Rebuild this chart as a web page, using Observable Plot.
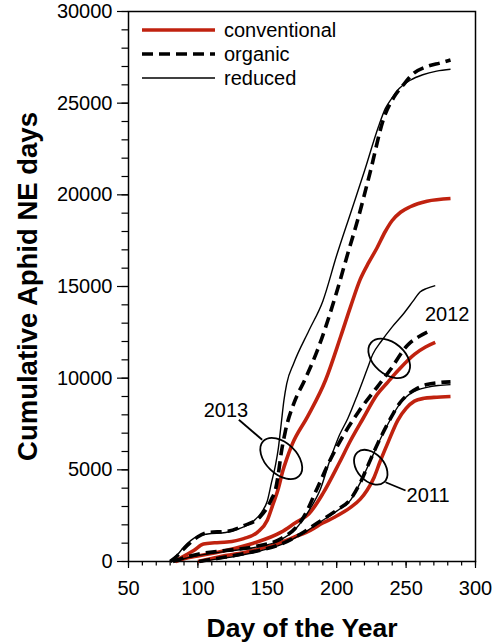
<!DOCTYPE html>
<html>
<head>
<meta charset="utf-8">
<script src="https://cdn.jsdelivr.net/npm/d3@7"></script>
<script src="https://cdn.jsdelivr.net/npm/@observablehq/plot@0.6"></script>
<style>
  body { margin: 0; background: #fff; }
  #wrap { position: relative; width: 498px; height: 644px; font-family: "Liberation Sans", Arial, Helvetica, sans-serif; }
  #legend { position: absolute; left: 142px; top: 18px; font-size: 20px; color: #000; }
  #legend .row { display: flex; align-items: center; height: 24px; }
  #legend svg { display: block; margin-right: 9px; }
</style>
</head>
<body>
<div id="wrap"><div id="legend"></div></div>
<script>
// Cumulative aphid NE days by day of year, [day, value] pairs per year and treatment
const conventional2013 = [[83,0],[90,300],[97,600],[104,950],[112,1020],[121,1060],[133,1250],[143,1600],[150,2250],[154,3100],[158,4000],[161,4900],[164,5600],[168,6400],[179,7900],[192,9900],[203,12300],[210,13900],[217,15400],[223,16300],[229,17100],[235,18000],[240,18600],[246,19050],[253,19350],[265,19650],[282,19800]];
const organic2013 = [[80,0],[85,300],[90,700],[95,1050],[100,1350],[107,1580],[121,1650],[133,1950],[145,2450],[150,2950],[153,3400],[156,3950],[158,4800],[160,5900],[163,7100],[169,8600],[177,9900],[186,11500],[200,14700],[208,16800],[215,18600],[224,21200],[234,24200],[241,25300],[248,26000],[255,26600],[265,27000],[275,27200],[282,27350]];
const reduced2013 = [[80,0],[85,350],[90,800],[95,1150],[100,1380],[107,1500],[120,1580],[130,1800],[140,2200],[146,2700],[150,3300],[153,4300],[156,5300],[158,6200],[160,7500],[162,8800],[164,9700],[169,10800],[180,12600],[190,14200],[200,16700],[210,19000],[220,21300],[230,23700],[235,24700],[240,25300],[245,25800],[253,26250],[262,26550],[272,26750],[282,26850]];

const conventional2012 = [[84,0],[90,150],[100,300],[120,600],[140,1000],[160,1600],[170,2100],[180,2600],[190,3700],[202,5400],[210,6600],[219,7800],[229,9100],[237,9800],[244,10400],[256,11300],[264,11700],[271,11950]];
const organic2012 = [[82,0],[90,200],[100,400],[120,600],[140,800],[160,1250],[170,1800],[176,2400],[186,4000],[195,5500],[205,6900],[216,8200],[229,9500],[239,10500],[251,11800],[260,12300],[269,12650]];
const reduced2012 = [[82,0],[90,150],[100,320],[120,550],[140,750],[160,1200],[170,1750],[175,2200],[181,2900],[188,3900],[195,5500],[202,6900],[208,7800],[215,9100],[222,10500],[226,11300],[232,12000],[240,12800],[248,13500],[255,14200],[260,14700],[265,14900],[271,15050]];

const conventional2011 = [[100,0],[110,160],[120,320],[135,520],[157,960],[170,1350],[181,1700],[190,2100],[198,2400],[210,2950],[217,3400],[222,3900],[227,4600],[231,5400],[237,6500],[244,7700],[250,8350],[256,8750],[263,8900],[270,8950],[282,9000]];
const organic2011 = [[101,0],[110,120],[120,240],[130,380],[145,620],[160,950],[174,1500],[188,2200],[200,2800],[210,3400],[217,4300],[224,5500],[230,6500],[238,7700],[246,8700],[252,9150],[258,9450],[265,9650],[273,9750],[282,9800]];
const reduced2011 = [[103,0],[110,90],[120,200],[130,330],[145,580],[160,920],[174,1450],[188,2150],[200,2750],[210,3350],[217,4300],[224,5450],[230,6450],[238,7650],[246,8650],[252,9100],[258,9350],[265,9500],[273,9600],[282,9650]];

const treatments = ["conventional", "organic", "reduced"];
const years = ["2011", "2012", "2013"];
const xTicks = [50, 100, 150, 200, 250, 300];
const yTicks = [0, 5000, 10000, 15000, 20000, 25000, 30000];

// Year annotations: ring around each year's bundle, its tag, and the leader line between them
const yearTags = [
  {year: "2013", day: 120.2, value: 8236},
  {year: "2012", day: 279.6, value: 13470},
  {year: "2011", day: 265.8, value: 3573}
];
const yearRings = [
  {year: "2013", day: 160.4, value: 5590},
  {year: "2012", day: 238.2, value: 11056},
  {year: "2011", day: 224.9, value: 5116}
];
const leaders = [
  {year: "2013", day1: 129.5, value1: 7729, day2: 146.3, value2: 6638},
  {year: "2011", day1: 235.2, value1: 4325, day2: 249.6, value2: 3873}
];

// Drawing styles
const lineStyle = {
  conventional: {stroke: "#c0220f", strokeWidth: 3.6, dash: null},
  organic: {stroke: "#000", strokeWidth: 3.6, dash: "11,6"},
  reduced: {stroke: "#000", strokeWidth: 1.4, dash: null}
};
const ringShape = {"2013": {rx: 25, ry: 15.5, angle: 44}, "2012": {rx: 24, ry: 15.7, angle: 41}, "2011": {rx: 20, ry: 13.5, angle: 48}};

const seriesSource = {
  conventional: {"2011": conventional2011, "2012": conventional2012, "2013": conventional2013},
  organic: {"2011": organic2011, "2012": organic2012, "2013": organic2013},
  reduced: {"2011": reduced2011, "2012": reduced2012, "2013": reduced2013}
};
const rows = [];
for (const t of treatments) for (const y of years)
  for (const [day, value] of seriesSource[t][y]) rows.push({treatment: t, year: y, day, value});

const lineMarks = treatments.map(t => Plot.line(rows.filter(d => d.treatment === t), {
  x: "day", y: "value", z: "year",
  stroke: lineStyle[t].stroke, strokeWidth: lineStyle[t].strokeWidth,
  strokeDasharray: lineStyle[t].dash, strokeLinejoin: "round",
  strokeLinecap: "butt", curve: "monotone-x"
}));

// Rotated rings placed through the chart's scales
const rings = (index, scales) => {
  const g = d3.create("svg:g").attr("fill", "none").attr("stroke", "#000").attr("stroke-width", 1.8);
  for (const r of yearRings) {
    const s = ringShape[r.year];
    g.append("ellipse").attr("rx", s.rx).attr("ry", s.ry)
      .attr("transform", `translate(${scales.x(r.day)},${scales.y(r.value)}) rotate(${s.angle})`);
  }
  return g.node();
};

const font = "'Liberation Sans', Arial, Helvetica, sans-serif";

const chart = Plot.plot({
  width: 498, height: 644,
  marginLeft: 128, marginRight: 23, marginTop: 11, marginBottom: 83,
  style: {fontFamily: font, background: "#fff", color: "#000", overflow: "visible"},
  x: {domain: [50, 300]},
  y: {domain: [0, 30000]},
  marks: [
    Plot.axisX({ticks: d3.range(50, 301, 10), tickSize: 4.5, strokeWidth: 1.2, tickFormat: () => "", label: null}),
    Plot.axisX({ticks: xTicks, tickSize: 7, tickPadding: 12, strokeWidth: 1.2, fontSize: 20, tickFormat: d3.format("d"), label: null}),
    Plot.axisY({ticks: d3.range(0, 30001, 1000), tickSize: 6.5, strokeWidth: 1.2, tickFormat: () => "", label: null}),
    Plot.axisY({ticks: yTicks, tickSize: 11, tickPadding: 5, strokeWidth: 1.2, fontSize: 20, tickFormat: d3.format("d"), label: null}),
    ...lineMarks,
    rings,
    Plot.link(leaders, {x1: "day1", y1: "value1", x2: "day2", y2: "value2", stroke: "#000", strokeWidth: 1.8}),
    Plot.text(yearTags, {x: "day", y: "value", text: "year", fontSize: 20, fill: "#000"}),
    Plot.frame({stroke: "#000", strokeWidth: 1.5}),
    Plot.text(["Cumulative Aphid NE days"], {frameAnchor: "left", textAnchor: "middle", lineAnchor: "middle", rotate: -90, dx: -100, fontSize: 27.5, fontWeight: "bold", fill: "#000"}),
    Plot.text(["Day of the Year"], {frameAnchor: "bottom", textAnchor: "middle", lineAnchor: "middle", dy: 67, fontSize: 26.5, fontWeight: "bold", fill: "#000"})
  ]
});

const wrap = document.getElementById("wrap");
wrap.insertBefore(chart, wrap.firstChild);

// Legend for the three treatments
const legend = d3.select("#legend");
for (const t of treatments) {
  const row = legend.append("div").attr("class", "row");
  const sw = row.append("svg").attr("width", 73).attr("height", 24);
  sw.append("line").attr("x1", 0).attr("x2", 73).attr("y1", 12).attr("y2", 12)
    .attr("stroke", lineStyle[t].stroke).attr("stroke-width", lineStyle[t].strokeWidth)
    .attr("stroke-dasharray", lineStyle[t].dash);
  row.append("span").text(t);
}
</script>
</body>
</html>
